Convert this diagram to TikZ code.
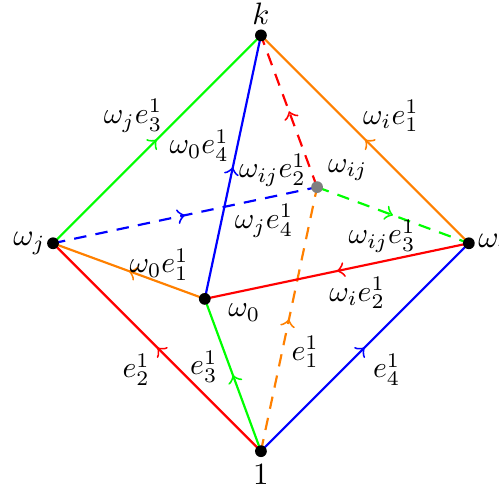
\documentclass[tikz,border=0pt]{standalone}
\usetikzlibrary{decorations.markings}

\begin{document}
\begin{tikzpicture}[
  x=0.59cm, y=0.59cm,
  % vertices
  vertex/.style={circle, fill=black, inner sep=0pt, minimum size=3.8pt},
  hidvertex/.style={circle, fill=gray, inner sep=0pt, minimum size=3.8pt},
  % edges
  edge/.style={line width=0.7pt, postaction={decorate}, decoration={markings, mark=at position 0.5 with {\arrow[line width=0.5pt, scale=1.25]{>}}}},
  hidedge/.style={edge, dash pattern=on 4pt off 3pt},
  % labels
  lab/.style={scale=0.96}
]

  \useasboundingbox (-5.02,-4.68) rectangle (4.58,4.68);

  % ==========================================
  % VERTICES
  % ==========================================
  \coordinate (k) at (0,4);
  \coordinate (one) at (0,-4);
  \coordinate (wj) at (-4,0);
  \coordinate (wi) at (4,0);
  \coordinate (w0) at (-1.08,-1.07);
  \coordinate (wij) at (1.08,1.08);

  % ==========================================
  % HIDDEN EDGES
  % ==========================================
  \draw[hidedge, blue] (wj) -- (wij);
  \draw[hidedge, orange] (one) -- (wij);
  \draw[hidedge, red] (wij) -- (k);
  \draw[hidedge, green] (wij) -- (wi);

  % ==========================================
  % VISIBLE EDGES
  % ==========================================
  \draw[edge, green] (wj) -- (k);
  \draw[edge, orange] (wi) -- (k);
  \draw[edge, red] (one) -- (wj);
  \draw[edge, blue] (one) -- (wi);
  \draw[edge, blue] (w0) -- (k);
  \draw[edge, green] (one) -- (w0);
  \draw[edge, orange] (w0) -- (wj);
  \draw[edge, red] (wi) -- (w0);

  % Vertex dots
  \node[vertex] (nk) at (k) {};
  \node[vertex] (none) at (one) {};
  \node[vertex] (nwj) at (wj) {};
  \node[vertex] (nwi) at (wi) {};
  \node[vertex] (nw0) at (w0) {};
  \node[hidvertex] (nwij) at (wij) {};

  % Vertex labels
  \node (lk) at (0,4.42) {$k$};
  \node (lone) at (0,-4.45) {$1$};
  \node (lwj) at (-4.45,0) {$\omega_j$};
  \node[anchor=west, inner sep=0pt] (lwi) at (4.17,0) {$\omega_i$};
  \node[lab] (lw0) at (-0.32,-1.33) {$\omega_0$};
  \node[lab] (lwij) at (1.67,1.41) {$\omega_{ij}$};

  % Edge labels
  \node[lab] (ljkk) at (-2.46,2.45) {$\omega_j e_3^1$};
  \node[lab] (likk) at (2.5,2.45) {$\omega_i e_1^1$};
  \node[lab] (l0k) at (-1.19,1.88) {$\omega_0 e_4^1$};
  \node[lab] (lijk) at (0.22,1.41) {$\omega_{ij} e_2^1$};
  \node[lab] (ljij) at (0.06,0.43) {$\omega_j e_4^1$};
  \node[lab] (liij) at (2.33,0.14) {$\omega_{ij} e_3^1$};
  \node[lab] (l0j) at (-1.96,-0.41) {$\omega_0 e_1^1$};
  \node[lab] (li0) at (1.85,-0.95) {$\omega_i e_2^1$};
  \node[lab] (l1j) at (-2.4,-2.43) {$e_2^1$};
  \node[lab] (l10) at (-1.1,-2.37) {$e_3^1$};
  \node[lab] (l1ij) at (0.85,-2.09) {$e_1^1$};
  \node[lab] (l1i) at (2.42,-2.43) {$e_4^1$};

\end{tikzpicture}
\end{document}
